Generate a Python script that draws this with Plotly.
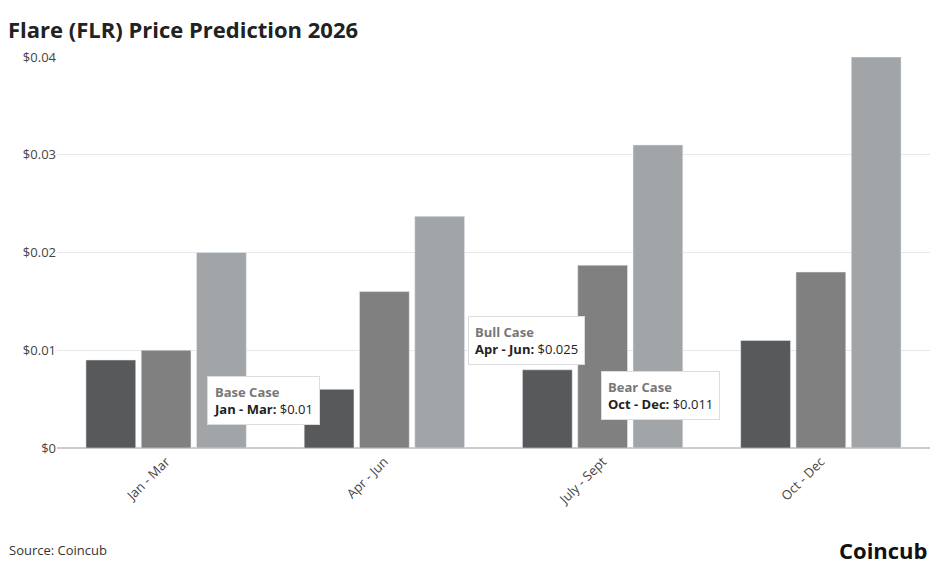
import plotly.graph_objects as go

quarters = ["Jan - Mar", "Apr - Jun", "July - Sept", "Oct - Dec"]
bear = [0.009, 0.006, 0.008, 0.011]
base = [0.010, 0.016, 0.0187, 0.018]
bull = [0.020, 0.0237, 0.031, 0.040]
tick_vals = [0, 0.01, 0.02, 0.03, 0.04]
tick_text = ["$0", "$0.01", "$0.02", "$0.03", "$0.04"]

fig = go.Figure()
for name, vals, col in [("Bear Case", bear, "#58595b"), ("Base Case", base, "#808080"), ("Bull Case", bull, "#a2a5a8")]:
    fig.add_bar(x=quarters, y=vals, name=name, marker_color=col)

F = "Open Sans"
def tip(x, y, title, label, val):
    fig.add_annotation(x=x, y=y, xref="paper", yref="y", showarrow=False,
        xanchor="center", yanchor="middle",
        text=f"<span style='color:#777'><b>{title}</b></span><br><b>{label}:</b> {val}",
        align="left", bgcolor="white", bordercolor="#dddddd", borderwidth=1, borderpad=6,
        font=dict(family=F, size=13, color="#222"))
tip(0.236, 0.0049, "Base Case", "Jan - Mar", "$0.01")
tip(0.538, 0.011, "Bull Case", "Apr - Jun", "$0.025")
tip(0.691, 0.0054, "Bear Case", "Oct - Dec", "$0.011")

fig.add_annotation(xref="paper", yref="paper", x=-0.057, y=-0.26, xanchor="left", yanchor="middle",
    text="Source: Coincub", showarrow=False, font=dict(family=F, size=13, color="#333"))
fig.add_annotation(xref="paper", yref="paper", x=1.0, y=-0.26, xanchor="right", yanchor="middle",
    text="<b>Coincub</b>", showarrow=False, font=dict(family=F, size=22, color="#111"))

fig.update_layout(
    width=947, height=571, margin=dict(l=49, r=25, t=49, b=131),
    paper_bgcolor="white", plot_bgcolor="white", showlegend=False,
    barmode="group", bargap=0.24, bargroupgap=0.1,
    title=dict(text="<b>Flare (FLR) Price Prediction 2026</b>", x=0.0, y=0.975, xanchor="left",
               font=dict(family=F, size=22, color="#222")),
    font=dict(family=F, size=13, color="#444"),
    yaxis=dict(range=[0, 0.04], tickvals=tick_vals, ticktext=tick_text, gridcolor="#e8e8e8",
               zeroline=True, zerolinecolor="#cccccc", ticks="", showline=False),
    xaxis=dict(tickangle=-45, showline=True, linecolor="#cccccc"),
)
fig.write_html("out.html")
